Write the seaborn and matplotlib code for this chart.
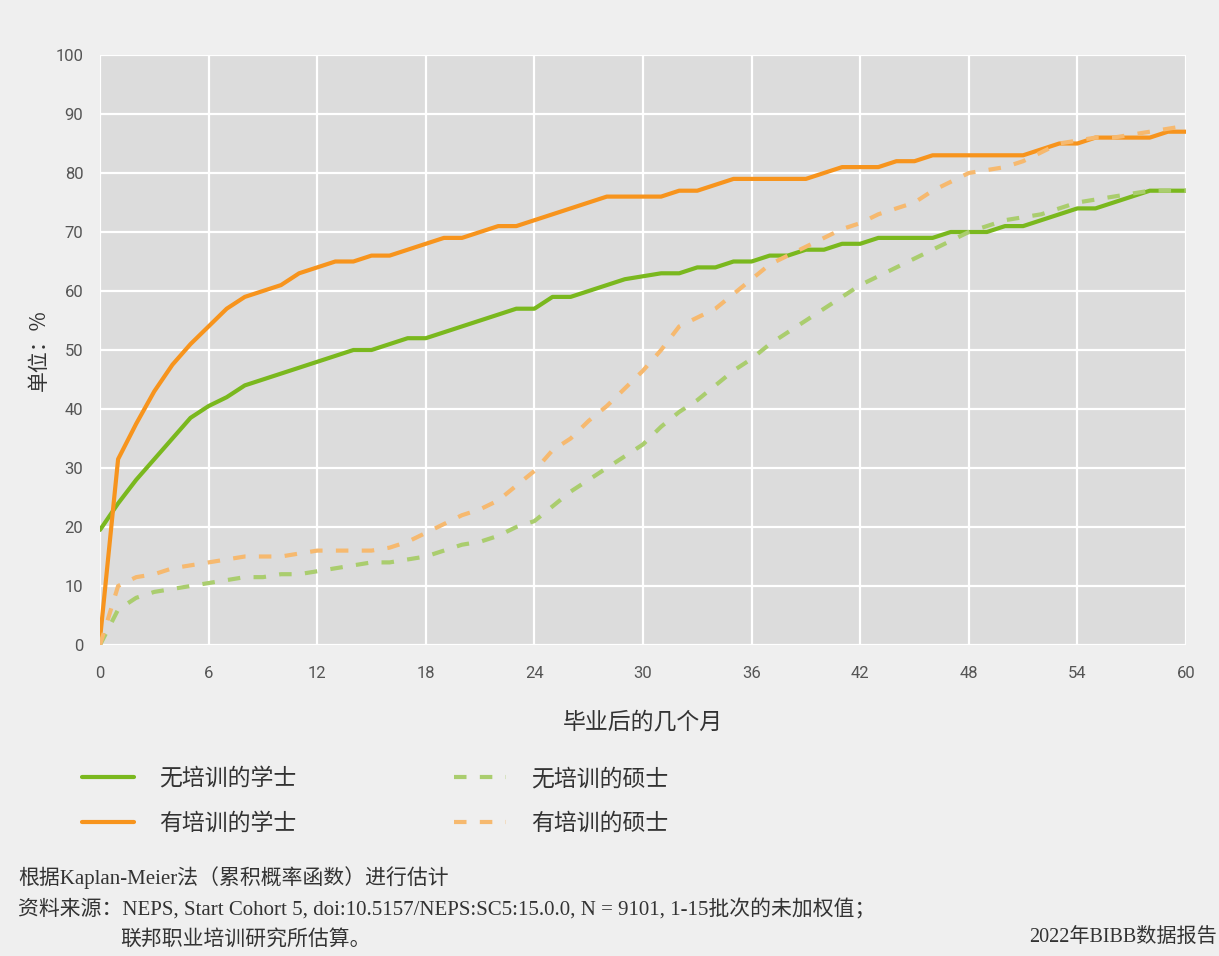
import numpy as np
import pandas as pd
import matplotlib
matplotlib.use("Agg")
import matplotlib.pyplot as plt
import seaborn as sns

# Months after graduation (0..60)
months = list(range(61))

# Cumulative share (%) employed, Kaplan-Meier estimates
bachelor_no_training = [
    19.5, 24, 28, 31.5, 35, 38.5, 40.5, 42, 44, 45, 46, 47, 48, 49, 50, 50,
    51, 52, 52, 53, 54, 55, 56, 57, 57, 59, 59, 60, 61, 62, 62.5, 63, 63,
    64, 64, 65, 65, 66, 66, 67, 67, 68, 68, 69, 69, 69, 69, 70, 70, 70, 71,
    71, 72, 73, 74, 74, 75, 76, 77, 77, 77,
]
bachelor_training = [
    1, 31.5, 37.5, 43, 47.5, 51, 54, 57, 59, 60, 61, 63, 64, 65, 65, 66,
    66, 67, 68, 69, 69, 70, 71, 71, 72, 73, 74, 75, 76, 76, 76, 76, 77,
    77, 78, 79, 79, 79, 79, 79, 80, 81, 81, 81, 82, 82, 83, 83, 83, 83, 83,
    83, 84, 85, 85, 86, 86, 86, 86, 87, 87,
]
master_no_training = [
    0, 6, 8, 9, 9.5, 10, 10.5, 11, 11.5, 11.5, 12, 12, 12.5, 13, 13.5, 14,
    14, 14.5, 15, 16, 17, 17.5, 18.5, 20, 21, 23.5, 26, 28, 30, 32, 34, 37,
    39.5, 41.5, 44, 46.5, 48.5, 51, 53, 55, 57, 59, 61, 62.5, 64, 65.5, 67,
    68.5, 70, 71, 72, 72.5, 73, 74, 75, 75.5, 76, 76.5, 77, 77, 77,
]
master_training = [
    0, 10, 11.5, 12, 13, 13.5, 14, 14.5, 15, 15, 15, 15.5, 16, 16, 16, 16,
    16.5, 17.5, 19, 20.5, 22, 23, 24.5, 27, 29.5, 33, 35, 38, 40.5, 43.5,
    46.5, 50, 54, 55.5, 57, 59.5, 62, 64.5, 66, 67.5, 69, 70.5, 71.5, 73,
    74, 75, 77, 78.5, 80, 80.5, 81, 82, 83.5, 85, 85.5, 86, 86, 86.5, 87,
    87.5, 88,
]

series_names = ["无培训的学士", "有培训的学士", "无培训的硕士", "有培训的硕士"]
series_values = [bachelor_no_training, bachelor_training,
                 master_no_training, master_training]

x_ticks = list(range(0, 61, 6))
y_ticks = list(range(0, 101, 10))

df = pd.concat(
    [pd.DataFrame({"month": months, "value": vals, "group": name})
     for name, vals in zip(series_names, series_values)],
    ignore_index=True,
)

palette = {
    "无培训的学士": "#7ab81e",
    "有培训的学士": "#f7941d",
    "无培训的硕士": "#aacd6e",
    "有培训的硕士": "#f6b96f",
}
dashes = {
    "无培训的学士": "",
    "有培训的学士": "",
    "无培训的硕士": (3, 3.2),
    "有培训的硕士": (3, 3.2),
}

sns.set_theme(style="darkgrid")
plt.rcParams["font.family"] = ["Noto Sans CJK SC", "DejaVu Sans"]

W, H = 1219, 956
fig = plt.figure(figsize=(W / 100, H / 100), dpi=100)
fig.patch.set_facecolor("#efefef")

ax = fig.add_axes([100 / W, 1 - 645 / H, 1086 / W, 590 / H])
ax.set_facecolor("#dcdcdc")

sns.lineplot(
    data=df, x="month", y="value", hue="group", style="group",
    hue_order=series_names, style_order=series_names,
    palette=palette, dashes=dashes, linewidth=3.0, ax=ax,
)

ax.set_xlim(0, 60)
ax.set_ylim(0, 100)
ax.set_xticks(x_ticks)
ax.set_yticks(y_ticks)
ax.grid(True, color="white", linewidth=1.6)
ax.set_axisbelow(True)
for s in ax.spines.values():
    s.set_visible(False)
ax.tick_params(axis="both", length=0, labelsize=12, labelcolor="#555555")
ax.tick_params(axis="x", pad=15)
ax.tick_params(axis="y", pad=12)
for lbl in ax.get_xticklabels() + ax.get_yticklabels():
    lbl.set_family(["Roboto", "DejaVu Sans"])

ax.set_xlabel("毕业后的几个月", fontsize=16.5, color="#333333", labelpad=21)
ax.set_ylabel("单位：%", fontsize=15, color="#333333", labelpad=4)

handles, labels = ax.get_legend_handles_labels()
leg = ax.legend(
    handles, labels, ncol=2, loc="upper left", frameon=False,
    bbox_to_anchor=(82 / W, 1 - 767 / H), bbox_transform=fig.transFigure,
    borderpad=0, borderaxespad=0, fontsize=16.5, handlelength=2.25,
    handletextpad=1.1, columnspacing=6.9, labelspacing=0.95,
    labelcolor="#333333",
)

note_font = ["Liberation Serif", "Noto Sans CJK SC"]
fig.text(18 / W, 1 - 878 / H, "根据Kaplan-Meier法（累积概率函数）进行估计",
         fontsize=15, family=note_font, color="#333333", va="center")
fig.text(18 / W, 1 - 910 / H,
         "资料来源：NEPS, Start Cohort 5, doi:10.5157/NEPS:SC5:15.0.0, "
         "N = 9101, 1-15批次的未加权值；",
         fontsize=15, family=note_font, color="#333333", va="center")
fig.text(120 / W, 1 - 940 / H, "联邦职业培训研究所估算。",
         fontsize=15, family=note_font, color="#333333", va="center")
fig.text(1217 / W, 1 - 937 / H, "2022年BIBB数据报告",
         fontsize=14.5, family=note_font, color="#333333", va="center",
         ha="right")

fig.savefig("out.png", dpi=100, facecolor=fig.get_facecolor())
